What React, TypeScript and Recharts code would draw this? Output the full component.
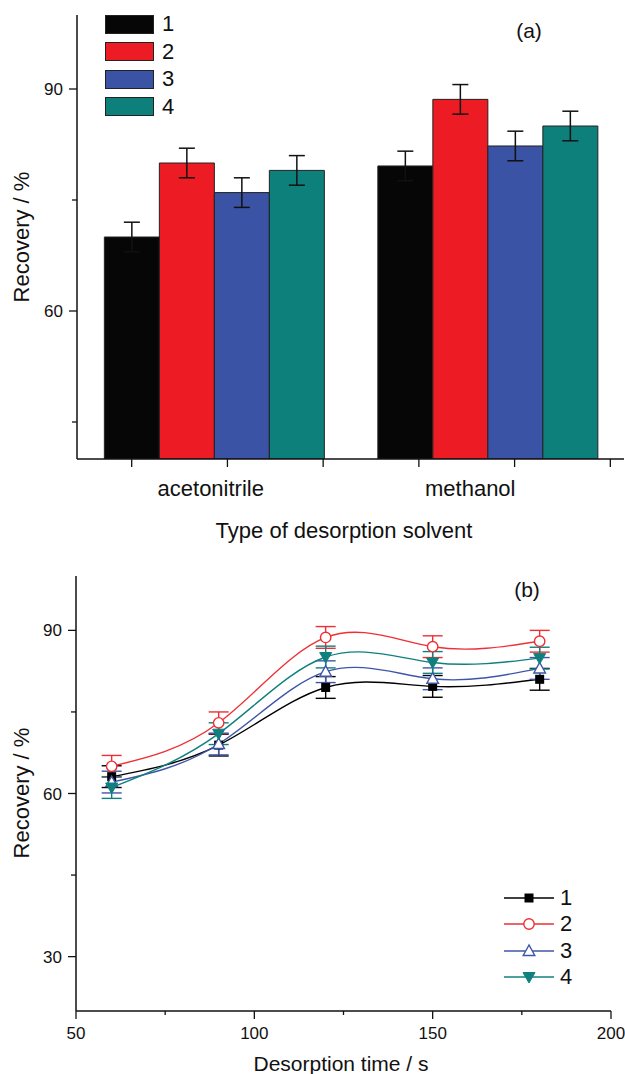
import React from 'react';
import { ComposedChart, Bar, XAxis, YAxis, ErrorBar, Legend, LineChart, Line } from 'recharts';

const FONT = '"Liberation Sans", Arial, Helvetica, sans-serif';

// ---------- Panel (a): type of desorption solvent ----------
const solvents = ['acetonitrile', 'methanol'];
const solventPositions = [1, 2];
const seriesNames = ['1', '2', '3', '4'];
const barRecovery1 = [70.0, 79.6];
const barRecovery2 = [80.0, 88.6];
const barRecovery3 = [76.0, 82.3];
const barRecovery4 = [79.0, 85.0];
const barError1 = [2.0, 2.0];
const barError2 = [2.0, 2.0];
const barError3 = [2.0, 2.0];
const barError4 = [2.0, 2.0];
const barYTicks = [45, 60, 75, 90];
const barYLabels = [60, 90];
const solventMinorTicks = [0.7, 1.05, 1.4, 1.75, 2.1, 2.45];

// ---------- Panel (b): desorption time ----------
const times = [60, 90, 120, 150, 180];
const lineRecovery1 = [63.1, 68.9, 79.5, 79.7, 81.0];
const lineRecovery2 = [65.0, 73.0, 88.7, 87.0, 88.0];
const lineRecovery3 = [62.1, 69.1, 82.4, 81.1, 83.0];
const lineRecovery4 = [61.1, 71.0, 85.1, 84.1, 84.9];
const lineError1 = [2.0, 2.0, 2.0, 2.0, 2.0];
const lineError2 = [2.0, 2.0, 2.0, 2.0, 2.0];
const lineError3 = [2.0, 2.0, 2.0, 2.0, 2.0];
const lineError4 = [2.0, 2.0, 2.0, 2.0, 2.0];
const timeTicks = [50, 75, 100, 125, 150, 175, 200];
const timeLabels = [50, 100, 150, 200];
const lineYTicks = [30, 45, 60, 75, 90];
const lineYLabels = [30, 60, 90];

const BAR_COLORS = ['#060606', '#ED1C24', '#3A53A4', '#0E807B'];
const LINE_COLORS = ['#000000', '#EE2F33', '#3F56A8', '#10807E'];

const barData = solvents.map((s, i) => ({
  solvent: s,
  pos: solventPositions[i],
  v1: barRecovery1[i], v2: barRecovery2[i], v3: barRecovery3[i], v4: barRecovery4[i],
  e1: barError1[i], e2: barError2[i], e3: barError3[i], e4: barError4[i],
}));

const lineData = times.map((t, i) => ({
  t,
  l1: lineRecovery1[i], l2: lineRecovery2[i], l3: lineRecovery3[i], l4: lineRecovery4[i],
  e1: lineError1[i], e2: lineError2[i], e3: lineError3[i], e4: lineError4[i],
}));

const TICK_SIZE = 8;
const TICK_MARGIN = 6;

const makeYTick = (labels: number[]) => (props: any) => {
  const { x, y, payload } = props;
  const axisX = x + TICK_SIZE + TICK_MARGIN;
  const major = labels.includes(payload.value);
  return (
    <g>
      <line x1={axisX - (major ? 8 : 5)} x2={axisX} y1={y} y2={y} stroke="#111" strokeWidth={1.3} />
      {major && (
        <text x={axisX - 14} y={y} dy="0.36em" textAnchor="end" fontSize={17} fontFamily={FONT} fill="#111">
          {payload.value}
        </text>
      )}
    </g>
  );
};

const makeXTick = (labels: number[]) => (props: any) => {
  const { x, y, payload } = props;
  const axisY = y - TICK_SIZE - TICK_MARGIN;
  const major = labels.includes(payload.value);
  return (
    <g>
      <line x1={x} x2={x} y1={axisY} y2={axisY + (major ? 8 : 4)} stroke="#111" strokeWidth={1.3} />
      {major && (
        <text x={x} y={axisY + 28} textAnchor="middle" fontSize={17} fontFamily={FONT} fill="#111">
          {payload.value}
        </text>
      )}
    </g>
  );
};

// minor tick marks of panel (a): the axis sits 1px below the plot bottom
const MinorTick = (props: any) => {
  const { x, y } = props;
  return <line x1={x} x2={x} y1={y - 1} y2={y + 7} stroke="#111" strokeWidth={1.3} />;
};

const SOLVENT_LABEL_SHIFT = [-3, -17];
const SolventTick = (props: any) => {
  const { x, y, payload, index } = props;
  return (
    <text x={x + (SOLVENT_LABEL_SHIFT[index] || 0)} y={y + 37} textAnchor="middle" fontSize={22} fontFamily={FONT} fill="#111">
      {payload.value}
    </text>
  );
};

const BarLegend = (props: any) => {
  const payload = props.payload || [];
  return (
    <div style={{ fontFamily: FONT }}>
      {payload.map((p: any, i: number) => (
        <div key={i} style={{ display: 'flex', alignItems: 'center', height: 27.5 }}>
          <div style={{ width: 47, height: 17, background: p.color, border: '1px solid #222' }} />
          <span style={{ marginLeft: 8, fontSize: 22, lineHeight: '22px', color: '#111' }}>{p.value}</span>
        </div>
      ))}
    </div>
  );
};

const Marker = ({ kind, cx, cy, color }: { kind: number; cx: number; cy: number; color: string }) => {
  if (kind === 0) return <rect x={cx - 4.5} y={cy - 4.5} width={9} height={9} fill={color} />;
  if (kind === 1) return <circle cx={cx} cy={cy} r={5.2} fill="#fff" stroke={color} strokeWidth={1.4} />;
  if (kind === 2)
    return (
      <polygon
        points={`${cx},${cy - 6} ${cx - 5.8},${cy + 4.5} ${cx + 5.8},${cy + 4.5}`}
        fill="#fff"
        stroke={color}
        strokeWidth={1.4}
      />
    );
  return <polygon points={`${cx - 6},${cy - 4.5} ${cx + 6},${cy - 4.5} ${cx},${cy + 6}`} fill={color} stroke={color} strokeWidth={1} />;
};

const makeDot = (kind: number) => (props: any) => {
  const { cx, cy, index } = props;
  if (cx == null || cy == null) return <g key={index} />;
  return <Marker key={index} kind={kind} cx={cx} cy={cy} color={LINE_COLORS[kind]} />;
};

const LineLegend = (props: any) => {
  const payload = props.payload || [];
  return (
    <div style={{ fontFamily: FONT }}>
      {payload.map((p: any, i: number) => (
        <div key={i} style={{ display: 'flex', alignItems: 'center', height: 26.5 }}>
          <svg width={50} height={20} style={{ display: 'block' }}>
            <line x1={0} x2={50} y1={10} y2={10} stroke={LINE_COLORS[i]} strokeWidth={1.4} />
            <Marker kind={i} cx={25} cy={10} color={LINE_COLORS[i]} />
          </svg>
          <span style={{ marginLeft: 6, fontSize: 22, lineHeight: '22px', color: '#111' }}>{p.value}</span>
        </div>
      ))}
    </div>
  );
};

const textStyle: React.CSSProperties = {
  position: 'absolute',
  fontFamily: FONT,
  color: '#111',
  whiteSpace: 'nowrap',
  lineHeight: 1,
};

export default function App() {
  return (
    <div style={{ position: 'absolute', left: 0, top: 0, width: 625, height: 1074, background: '#fff', fontFamily: FONT }}>
      {/* Panel (a) */}
      <div style={{ position: 'absolute', left: 0, top: 0 }}>
        <ComposedChart
          width={625}
          height={545}
          data={barData}
          margin={{ top: 15, right: 1, bottom: 0, left: 17 }}
          barCategoryGap="10%"
          barGap={0}
        >
          <XAxis
            dataKey="solvent"
            height={1}
            interval={0}
            axisLine={{ stroke: '#111', strokeWidth: 1.5 }}
            tickLine={false}
            tickSize={0}
            tickMargin={0}
            tick={SolventTick}
          />
          <XAxis
            xAxisId="minor"
            dataKey="pos"
            type="number"
            domain={[0.5, 2.5]}
            allowDataOverflow
            ticks={solventMinorTicks}
            interval={0}
            height={85}
            tick={MinorTick}
            tickSize={0}
            tickMargin={0}
            tickLine={false}
            axisLine={false}
          />
          <YAxis
            type="number"
            domain={[40, 100]}
            allowDataOverflow
            ticks={barYTicks}
            interval={0}
            width={60}
            tickSize={TICK_SIZE}
            tickMargin={TICK_MARGIN}
            tickLine={false}
            axisLine={{ stroke: '#111', strokeWidth: 1.5 }}
            tick={makeYTick(barYLabels)}
          />
          <Legend
            content={BarLegend}
            layout="horizontal"
            verticalAlign="middle"
            align="center"
            wrapperStyle={{ left: 105, top: 10.5, width: 'auto', height: 'auto' }}
          />
          <Bar dataKey="v1" name={seriesNames[0]} fill={BAR_COLORS[0]} stroke="#222" strokeWidth={1} isAnimationActive={false}>
            <ErrorBar dataKey="e1" width={8} stroke="#111" strokeWidth={1.5} direction="y" />
          </Bar>
          <Bar dataKey="v2" name={seriesNames[1]} fill={BAR_COLORS[1]} stroke="#222" strokeWidth={1} isAnimationActive={false}>
            <ErrorBar dataKey="e2" width={8} stroke="#111" strokeWidth={1.5} direction="y" />
          </Bar>
          <Bar dataKey="v3" name={seriesNames[2]} fill={BAR_COLORS[2]} stroke="#222" strokeWidth={1} isAnimationActive={false}>
            <ErrorBar dataKey="e3" width={8} stroke="#111" strokeWidth={1.5} direction="y" />
          </Bar>
          <Bar dataKey="v4" name={seriesNames[3]} fill={BAR_COLORS[3]} stroke="#222" strokeWidth={1} isAnimationActive={false}>
            <ErrorBar dataKey="e4" width={8} stroke="#111" strokeWidth={1.5} direction="y" />
          </Bar>
        </ComposedChart>
      </div>

      {/* Panel (b) */}
      <div style={{ position: 'absolute', left: 0, top: 545 }}>
        <LineChart width={625} height={529} data={lineData} margin={{ top: 31, right: 14, bottom: 0, left: 16 }}>
          <XAxis
            dataKey="t"
            type="number"
            domain={[50, 200]}
            allowDataOverflow
            ticks={timeTicks}
            interval={0}
            height={63}
            tickSize={TICK_SIZE}
            tickMargin={TICK_MARGIN}
            tickLine={false}
            axisLine={{ stroke: '#111', strokeWidth: 1.5 }}
            tick={makeXTick(timeLabels)}
          />
          <YAxis
            type="number"
            domain={[20, 100]}
            allowDataOverflow
            ticks={lineYTicks}
            interval={0}
            width={60}
            tickSize={TICK_SIZE}
            tickMargin={TICK_MARGIN}
            tickLine={false}
            axisLine={{ stroke: '#111', strokeWidth: 1.5 }}
            tick={makeYTick(lineYLabels)}
          />
          <Legend
            content={LineLegend}
            layout="horizontal"
            verticalAlign="middle"
            align="center"
            wrapperStyle={{ left: 504, top: 339.5, width: 'auto', height: 'auto' }}
          />
          <Line type="natural" dataKey="l1" name={seriesNames[0]} stroke={LINE_COLORS[0]} strokeWidth={1.4} dot={makeDot(0)} activeDot={false} isAnimationActive={false}>
            <ErrorBar dataKey="e1" width={10} stroke={LINE_COLORS[0]} strokeWidth={1.4} direction="y" />
          </Line>
          <Line type="natural" dataKey="l2" name={seriesNames[1]} stroke={LINE_COLORS[1]} strokeWidth={1.4} dot={makeDot(1)} activeDot={false} isAnimationActive={false}>
            <ErrorBar dataKey="e2" width={10} stroke={LINE_COLORS[1]} strokeWidth={1.4} direction="y" />
          </Line>
          <Line type="natural" dataKey="l3" name={seriesNames[2]} stroke={LINE_COLORS[2]} strokeWidth={1.4} dot={makeDot(2)} activeDot={false} isAnimationActive={false}>
            <ErrorBar dataKey="e3" width={10} stroke={LINE_COLORS[2]} strokeWidth={1.4} direction="y" />
          </Line>
          <Line type="natural" dataKey="l4" name={seriesNames[3]} stroke={LINE_COLORS[3]} strokeWidth={1.4} dot={makeDot(3)} activeDot={false} isAnimationActive={false}>
            <ErrorBar dataKey="e4" width={10} stroke={LINE_COLORS[3]} strokeWidth={1.4} direction="y" />
          </Line>
        </LineChart>
      </div>

      {/* Titles and panel labels */}
      <div style={{ ...textStyle, left: 22, top: 237, fontSize: 22, transform: 'translate(-50%, -50%) rotate(-90deg)' }}>
        Recovery / %
      </div>
      <div style={{ ...textStyle, left: 344, top: 519.5, fontSize: 22, transform: 'translateX(-50%)' }}>
        Type of desorption solvent
      </div>
      <div style={{ ...textStyle, left: 529, top: 30, fontSize: 21, transform: 'translate(-50%, -50%)' }}>(a)</div>

      <div style={{ ...textStyle, left: 22, top: 793, fontSize: 22, transform: 'translate(-50%, -50%) rotate(-90deg)' }}>
        Recovery / %
      </div>
      <div style={{ ...textStyle, left: 341, top: 1053, fontSize: 21, transform: 'translateX(-50%)' }}>
        Desorption time / s
      </div>
      <div style={{ ...textStyle, left: 527, top: 589, fontSize: 21, transform: 'translate(-50%, -50%)' }}>(b)</div>
    </div>
  );
}
